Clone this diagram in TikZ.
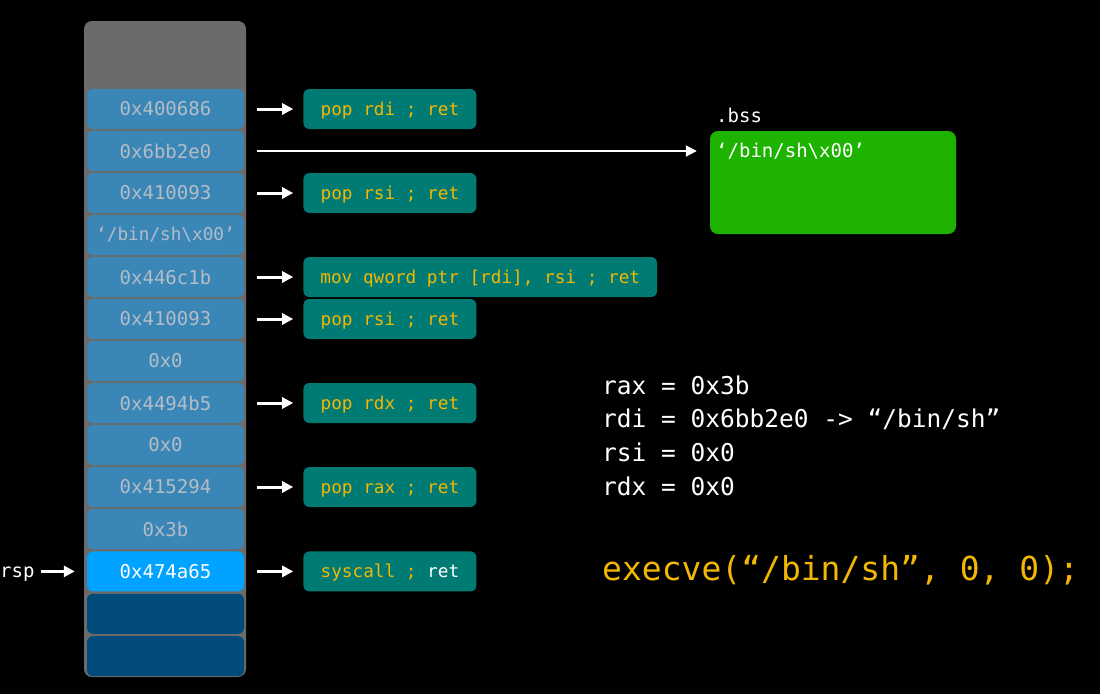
\documentclass[tikz,border=0pt]{standalone}
\usepackage{fontspec}
\setmonofont{DejaVu Sans Mono}
\usetikzlibrary{arrows.meta,positioning}

\definecolor{stackgrey}{HTML}{6B6B6B}
\definecolor{cellblue}{HTML}{3A87B7}
\definecolor{celltext}{HTML}{B4BCC6}
\definecolor{rspblue}{HTML}{00A3FF}
\definecolor{darkblue}{HTML}{004B7A}
\definecolor{gadgetteal}{HTML}{007B73}
\definecolor{gadgettext}{HTML}{F2B705}
\definecolor{bssgreen}{HTML}{1DB300}

\begin{document}
\begin{tikzpicture}[x=1pt,y=-1pt,>={Triangle[length=11pt,width=11pt]},
        cell/.style={rectangle,rounded corners=6pt,fill=cellblue,text=celltext,minimum width=157pt,minimum height=40pt,inner sep=0pt,font=\ttfamily\fontsize{19}{19}\selectfont},
        gadget/.style={rectangle,rounded corners=6pt,fill=gadgetteal,text=gadgettext,minimum width=173pt,minimum height=40pt,inner xsep=17pt,inner ysep=0pt,text depth=0.1ex,font=\ttfamily\fontsize{17.7}{17.7}\selectfont},
        pointer/.style={->,white,line width=3pt,shorten <=13pt,shorten >=10pt},
        plain/.style={inner sep=0pt,text=white,font=\ttfamily\fontsize{19}{19}\selectfont}]
        \fill[black] (0,0) rectangle (1100,694);
        \node[rectangle,rounded corners=8pt,fill=stackgrey,minimum width=162pt,minimum height=656pt] (stack) at (165,349) {};
        % stack cells
        \foreach \val [count=\i] in {0x400686,0x6bb2e0,0x410093,{\fontsize{17.7}{17.7}\selectfont‘/bin/sh\textbackslash x00’},0x446c1b,0x410093,0x0,0x4494b5,0x0,0x415294,0x3b}
          \node[cell] (c\i) at (165.5,67+42*\i) {\val};
        \node[cell,fill=rspblue,text=white] (c12) [below=2pt of c11] {0x474a65};
        \node[cell,fill=darkblue] (c13) [below=2pt of c12] {};
        \node[cell,fill=darkblue] (c14) [below=2pt of c13] {};
        % gadgets
        \node[gadget] (g1) [right=59pt of c1] {pop rdi ; ret};
        \node[gadget] (g3) [right=59pt of c3] {pop rsi ; ret};
        \node[gadget] (g5) [right=59pt of c5] {mov qword ptr [rdi], rsi ; ret};
        \node[gadget] (g6) [right=59pt of c6] {pop rsi ; ret};
        \node[gadget] (g8) [right=59pt of c8] {pop rdx ; ret};
        \node[gadget] (g10) [right=59pt of c10] {pop rax ; ret};
        \node[gadget] (g12) [right=59pt of c12] {syscall ; \textcolor{white}{ret}};
        \foreach \i in {1,3,5,6,8,10,12}
          \draw[pointer] (c\i) -- (g\i);
        % .bss
        \node[rectangle,rounded corners=8pt,fill=bssgreen,minimum width=246pt,minimum height=103pt] (bss) at (833,182.5) {};
        \node[plain,anchor=west] (bsslabel) at (716,115) {.bss};
        \node[plain,anchor=west] (bssstr) at (716,151) {‘/bin/sh\textbackslash x00’};
        \draw[->,white,line width=2pt,shorten <=13pt,shorten >=13pt] (c2) -- (c2 -| bss.west);
        % rsp
        \node[plain,anchor=base west] (rsp) at (0,577) {rsp};
        \draw[->,white,line width=3pt,shorten <=6pt,shorten >=12pt] (rsp.east |- c12) -- (c12);
        % registers
        \node[plain,anchor=west,align=left,font=\ttfamily\fontsize{24.5}{33.7}\selectfont] (regs) at (602,435.5)
          {rax = 0x3b\\rdi = 0x6bb2e0 -> “/bin/sh”\\rsi = 0x0\\rdx = 0x0};
        \node[plain,anchor=west,text=gadgettext,font=\ttfamily\fontsize{33}{33}\selectfont] (call) at (602,570)
          {execve(“/bin/sh”, 0, 0);};
\end{tikzpicture}
\end{document}
